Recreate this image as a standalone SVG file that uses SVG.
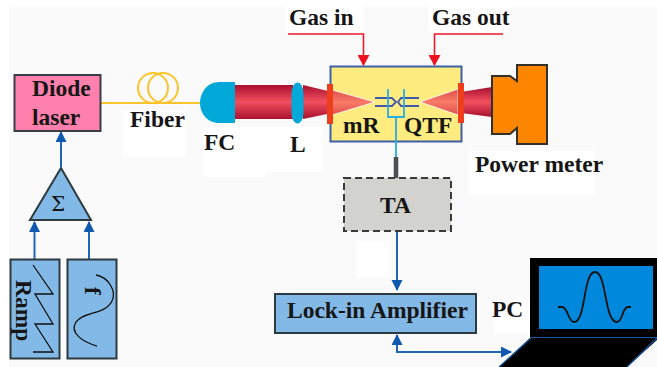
<svg xmlns="http://www.w3.org/2000/svg" width="657" height="367" viewBox="0 0 657 367">
<style>
text{font-family:"Liberation Serif",serif;font-weight:bold;fill:#161616;font-size:23.500px}
.blk{stroke:#2d3a40;stroke-width:2}
.box{fill:#83b9e6}
.wp{fill:#fff}
.bl{fill:none;stroke:#1f66b5;stroke-width:2}
.rd{fill:none;stroke:#f0182a;stroke-width:1.6}
.fb{fill:none;stroke:#fbc32c;stroke-width:2}
.cy{fill:none;stroke:#27aee0;stroke-width:1.800}
</style>
<defs>
<marker id="ab" markerUnits="userSpaceOnUse" markerWidth="12" markerHeight="12" refX="10" refY="5.5" orient="auto-start-reverse"><path d="M0 0L11 5.5L0 11z" fill="#1059b0"/></marker>
<marker id="ar" markerUnits="userSpaceOnUse" markerWidth="12" markerHeight="12" refX="10" refY="6" orient="auto"><path d="M0 0L11 6L0 12z" fill="#ee1120"/></marker>
<linearGradient id="beam" x1="0" y1="0" x2="0" y2="1"><stop offset="0" stop-color="#a80f30"/><stop offset=".5" stop-color="#f2505e"/><stop offset="1" stop-color="#a80f30"/></linearGradient>
<linearGradient id="cone" x1="0" y1="0" x2="0" y2="1"><stop offset="0" stop-color="#e0504c"/><stop offset=".5" stop-color="#f87a68"/><stop offset="1" stop-color="#e0504c"/></linearGradient>
</defs>
<rect x="9" y="7" width="648" height="360" fill="#fafafa"/>
<g id="patches">
<rect class="wp" x="122" y="110" width="64" height="47"/>
<rect class="wp" x="203" y="127" width="62" height="50"/>
<rect class="wp" x="260" y="127" width="63" height="45"/>
<rect class="wp" x="468" y="151" width="127" height="44"/>
<rect class="wp" x="285" y="7" width="79" height="25"/>
<rect class="wp" x="428" y="7" width="82" height="25"/>
<rect class="wp" x="356" y="241" width="34" height="37"/>
<rect class="wp" x="494" y="300" width="36" height="34"/>
</g>
<g id="optical-beam">
<rect x="235" y="85" width="58" height="34" fill="url(#beam)"/>
<path d="M303 85L332 92V113L303 119z" fill="url(#beam)"/>
<path d="M461 92L492 87V117L461 113z" fill="url(#beam)"/>
</g>
<g id="gas-cell">
<rect x="330.500" y="66.500" width="131" height="75" fill="#ffec80" stroke="#3d5ea8" stroke-width="2"/>
<path d="M332 90L375 102L332 115z" fill="url(#cone)" stroke="#fff" stroke-width=".8"/>
<path d="M458 89L420 102L458 115z" fill="url(#cone)" stroke="#fff" stroke-width=".8"/>
</g>
<g id="mirrors" fill="#ee3e1c">
<rect x="327" y="84" width="6" height="40"/>
<rect x="458" y="83" width="6" height="40"/>
</g>
<g id="mR">
<path d="M375 98H392L396 102L392 106H375M419 98H401L398 102L401 106H419" fill="none" stroke="#4058a8" stroke-width="1.800"/>
<text x="343" y="133">mR</text>
</g>
<g id="QTF">
<path class="cy" d="M388 89V117H404V89M396 117V157"/>
<text x="404" y="133">QTF</text>
</g>
<g id="connectors">
<path class="rd" d="M288 34H363.500V65" marker-end="url(#ar)"/>
<path class="rd" d="M503 34H434.500V65" marker-end="url(#ar)"/>
<path class="fb" d="M100 103H200"/>
<path class="bl" d="M61 167V132" marker-end="url(#ab)"/>
<path class="bl" d="M34.500 259V222" marker-end="url(#ab)"/>
<path class="bl" d="M89 259V222" marker-end="url(#ab)"/>
<path class="bl" d="M397 231V290" marker-end="url(#ab)"/>
<path class="bl" d="M397 335V352H511" marker-start="url(#ab)" marker-end="url(#ab)"/>
<path d="M396 157V178" stroke="#4a4f52" stroke-width="4.500" fill="none"/>
</g>
<g id="diode-laser">
<rect x="14.500" y="75" width="86" height="56" fill="#ff80ac" stroke="#3a3f44" stroke-width="2"/>
<text x="32" y="96">Diode</text>
<text x="32" y="125">laser</text>
</g>
<g id="fiber">
<circle class="fb" cx="153" cy="88" r="15"/>
<circle class="fb" cx="163" cy="88" r="15"/>
<text x="130" y="127">Fiber</text>
</g>
<g id="FC">
<path d="M235 82H219C207 82 200 93 200 103C200 113 207 123 219 123H235z" fill="#02a8d8"/>
<text x="204" y="150">FC</text>
</g>
<g id="L">
<rect x="291.500" y="82.500" width="12" height="41" rx="6" ry="11" fill="#02a8d8"/>
<text x="290" y="152">L</text>
</g>
<g id="power-meter">
<path d="M492 76H510L517 81V65H547V144H517V128L510 134H492z" fill="#fd8600" stroke="#33302c" stroke-width="2"/>
<text x="475" y="172">Power meter</text>
</g>
<g id="gas-in"><text x="289" y="25">Gas in</text></g>
<g id="gas-out"><text x="432" y="25">Gas out</text></g>
<g id="TA">
<rect x="344" y="178" width="107" height="53" fill="#d2d2ce" stroke="#3a3a3a" stroke-width="2" stroke-dasharray="7 4"/>
<text x="380" y="213">TA</text>
</g>
<g id="lock-in">
<rect class="box blk" x="275" y="294" width="201" height="39"/>
<text x="287" y="318">Lock-in Amplifier</text>
</g>
<g id="PC">
<rect x="530" y="258" width="127" height="80" fill="#000"/>
<rect x="539" y="266" width="114" height="63" fill="#0088dc"/>
<path d="M530 338H657V340L627 367H499z" fill="#000"/>
<path d="M530 337.500H657M531 338L499 367M657 338L627 367" stroke="#1559a8" stroke-width="1.200" fill="none"/>
<path d="M558 307H562C568 307 568 322 574 322C586 322 583 272 595 272C607 272 604 322 617 322C623 322 622 307 628 307H631" fill="none" stroke="#111" stroke-width="1.800"/>
<text x="492" y="317">PC</text>
</g>
<g id="sum">
<path d="M61 168L91 220H30z" class="box blk"/>
<text x="51" y="211" style="font-size:20px;font-family:'DejaVu Serif','Liberation Serif',serif;font-weight:normal">Σ</text>
</g>
<g id="ramp">
<rect class="box blk" x="10.500" y="259.500" width="49" height="99"/>
<path d="M33 265L53 294H35L53 324H35L53 352H33" fill="none" stroke="#111" stroke-width="1.300"/>
<text transform="translate(16 280) rotate(90)">Ramp</text>
</g>
<g id="f">
<rect class="box blk" x="67.500" y="259.500" width="49" height="99"/>
<path d="M96 275C108 277 117 291 112 301C105 315 84 311 76 322C69 333 83 342 97 346" fill="none" stroke="#111" stroke-width="1.300"/>
<text transform="translate(85 287) rotate(90)">f</text>
</g>
</svg>
